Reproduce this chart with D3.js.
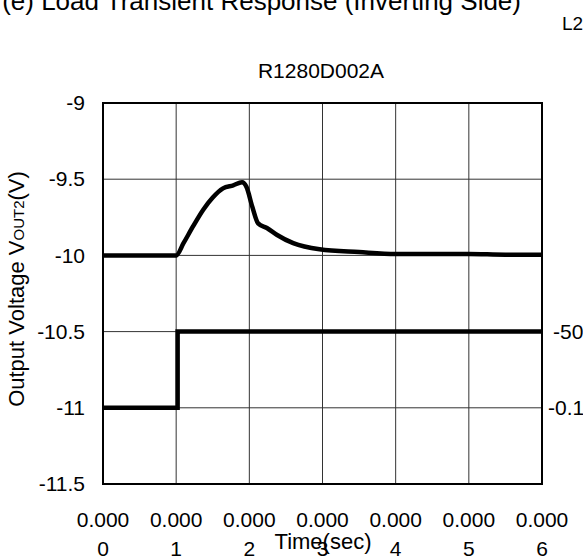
<!DOCTYPE html>
<html><head><meta charset="utf-8">
<script src="https://cdn.jsdelivr.net/npm/d3@7"></script>
<style>
html,body{margin:0;padding:0;background:#fff;}
svg{display:block;font-family:"Liberation Sans",Arial,sans-serif;}
</style></head>
<body><svg id="c" width="583" height="559"></svg>
<script>
// ---- data ----
const pageTitle = "(e) Load Transient Response (Inverting Side)";
const cornerLabel = "L2";
const chartTitle = "R1280D002A";
const xTicks = [0, 1, 2, 3, 4, 5, 6];
const xTickTopLabels = ["0.000", "0.000", "0.000", "0.000", "0.000", "0.000", "0.000"];
const yTicks = [-9, -9.5, -10, -10.5, -11, -11.5];
const rightLabelText = ["-50", "-0.1"];
const rightLabelAt = [-10.5, -11];
// output voltage series
const voutTime = [0, 0.5, 1.0, 1.1, 1.23, 1.37, 1.5, 1.64, 1.78, 1.9, 1.96, 2.04, 2.12, 2.24, 2.38, 2.6, 2.96, 3.5, 4.0, 4.5, 5.0, 5.5, 6.0];
const voutVal  = [-10, -10, -10, -9.92, -9.81, -9.70, -9.62, -9.56, -9.54, -9.52, -9.55, -9.68, -9.79, -9.82, -9.866, -9.92, -9.96, -9.978, -9.99, -9.99, -9.99, -9.995, -9.995];
// load step series (plotted on the left scale)
const stepTime = [0, 1.02, 1.02, 6];
const stepVal  = [-11, -11, -10.5, -10.5];

// ---- drawing ----
const FS = 21;
const svg = d3.select("#c");
const x = d3.scaleLinear().domain([0, 6]).range([103, 542]);
const y = d3.scaleLinear().domain([-11.5, -9]).range([484, 103]);

// top texts
svg.append("text").attr("x", 521).attr("y", 10).attr("text-anchor", "end")
  .attr("font-size", 26).text(pageTitle);
svg.append("text").attr("x", 562).attr("y", 30).attr("font-size", 19).text(cornerLabel);
svg.append("text").attr("x", 321).attr("y", 78).attr("text-anchor", "middle")
  .attr("font-size", FS).text(chartTitle);

// grid
const grid = svg.append("g");
grid.selectAll("line.v").data(xTicks.slice(1, -1)).join("line")
  .attr("x1", d => x(d)).attr("x2", d => x(d)).attr("y1", y(-9)).attr("y2", y(-11.5))
  .attr("stroke", "#333").attr("stroke-width", 1);
grid.selectAll("line.h").data(yTicks.slice(1, -1)).join("line")
  .attr("x1", x(0)).attr("x2", x(6)).attr("y1", d => y(d)).attr("y2", d => y(d))
  .attr("stroke", "#333").attr("stroke-width", 1);

// left axis labels
const yAxis = d3.axisLeft(y).tickValues(yTicks).tickSize(0).tickPadding(18)
  .tickFormat(d => String(d));
const ga = svg.append("g").attr("transform", `translate(${x(0)},0)`).call(yAxis);
ga.select(".domain").remove();
ga.selectAll("text").attr("font-size", FS).attr("font-family", "Liberation Sans, Arial, sans-serif").attr("fill", "#000");

// bottom axis labels (two rows)
const gb = svg.append("g");
gb.selectAll("text").data(xTicks).join("text")
  .attr("x", d => x(d)).attr("y", 527).attr("text-anchor", "middle")
  .attr("font-size", FS).text((d, i) => xTickTopLabels[i]);
svg.append("g").selectAll("text").data(xTicks).join("text")
  .attr("x", d => x(d)).attr("y", 556).attr("text-anchor", "middle")
  .attr("font-size", FS).text(d => d);

// axis titles
svg.append("text").attr("x", 323).attr("y", 549).attr("text-anchor", "middle")
  .attr("font-size", 22).text("Time(sec)");
const yt = svg.append("text").attr("transform", "translate(24,289) rotate(-90)")
  .attr("text-anchor", "middle").attr("font-size", 22);
yt.append("tspan").text("Output Voltage V");
yt.append("tspan").attr("font-size", 15).text("OUT2");
yt.append("tspan").text("(V)");

// right labels
svg.append("g").selectAll("text").data(rightLabelText).join("text")
  .attr("x", (d, i) => i === 0 ? 553 : 548).attr("y", (d, i) => y(rightLabelAt[i]) + 7.5)
  .attr("font-size", FS).text(d => d);

// plot frame
svg.append("rect").attr("x", x(0)).attr("y", y(-9)).attr("width", x(6) - x(0)).attr("height", y(-11.5) - y(-9))
  .attr("fill", "none").attr("stroke", "#000").attr("stroke-width", 2);

// series
const line = d3.line().x(d => x(d[0])).y(d => y(d[1]));
svg.append("path").datum(stepTime.map((t, i) => [t, stepVal[i]]))
  .attr("d", line).attr("fill", "none").attr("stroke", "#000").attr("stroke-width", 4.5);
svg.append("path").datum(voutTime.map((t, i) => [t, voutVal[i]]))
  .attr("d", d3.line().x(d => x(d[0])).y(d => y(d[1])).curve(d3.curveMonotoneX))
  .attr("fill", "none").attr("stroke", "#000").attr("stroke-width", 4.5).attr("stroke-linejoin", "round");
</script></body></html>
